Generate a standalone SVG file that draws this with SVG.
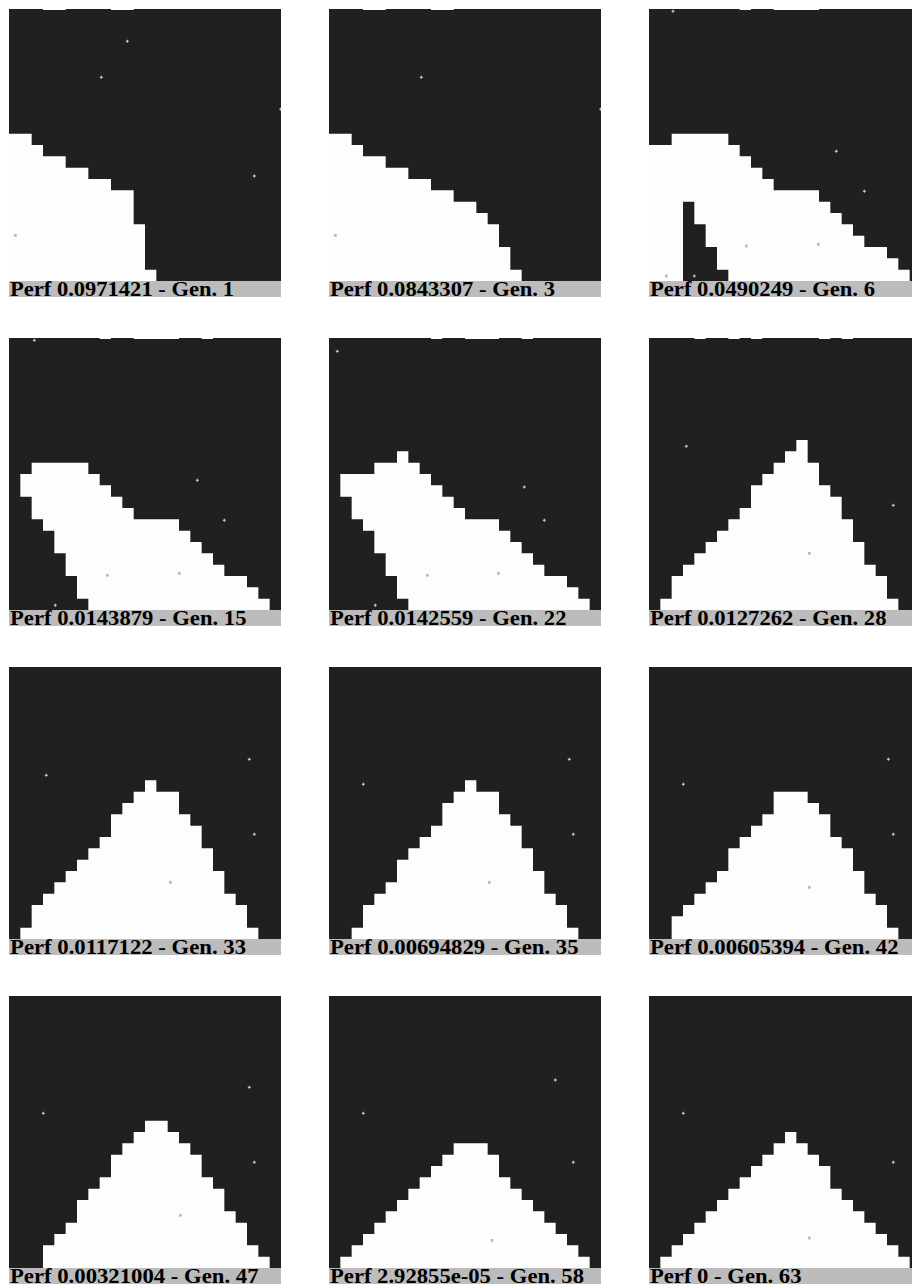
<svg xmlns="http://www.w3.org/2000/svg" xmlns:xlink="http://www.w3.org/1999/xlink" width="912" height="1288" viewBox="0 0 912 1288">
<style>
.bg{fill:#202020}
.wh{fill:#fdfdfd}
.bar{fill:#bcbcbc}
.notch{fill:#ffffff}
.lbl{font-family:"Liberation Serif","Times New Roman",serif;font-weight:bold;font-size:21px;fill:#000}
</style>
<defs>
<path id="sp" d="M-1.5,-0.5h3v1h-3z M-0.5,-1.5h1v3h-1z" fill="#d9d9d9"/>
<rect id="gs" x="-1.3" y="-1.3" width="2.7" height="2.7" fill="#b9b9b9"/>
</defs>
<rect width="912" height="1288" fill="#ffffff"/>

<g id="panel-1" transform="translate(9,9)">
<rect class="bg" width="272" height="272"/>
<path class="wh" transform="scale(11.33333)" d="M0 11h2v1h-2z M0 12h3v1h-3z M0 13h5v1h-5z M0 14h7v1h-7z M0 15h9v1h-9z M0 16h11v3h-11z M0 19h12v4h-12z M0 23h13v1h-13z"/>
<g class="notch" transform="scale(11.33333,1)"><rect x="3" width="2" height="1"/><rect x="9" width="2" height="1"/></g>
<use href="#sp" x="118.3" y="32.3"/><use href="#sp" x="92.3" y="68.3"/><use href="#sp" x="271.7" y="100.3"/><use href="#sp" x="245.3" y="167"/>
<use href="#gs" x="6.3" y="226.3"/>
<rect class="bar" y="272" width="272" height="16"/>
<text class="lbl" x="1" y="287" textLength="224" lengthAdjust="spacingAndGlyphs">Perf 0.0971421 - Gen. 1</text>
</g>

<g id="panel-2" transform="translate(329,9)">
<rect class="bg" width="272" height="272"/>
<path class="wh" transform="scale(11.33333)" d="M0 11h2v1h-2z M0 12h3v1h-3z M0 13h5v1h-5z M0 14h7v1h-7z M0 15h9v1h-9z M0 16h11v1h-11z M0 17h13v1h-13z M0 18h14v1h-14z M0 19h15v2h-15z M0 21h16v2h-16z M0 23h17v1h-17z"/>
<g class="notch" transform="scale(11.33333,1)"><rect x="3" width="2" height="1"/><rect x="9" width="2" height="1"/></g>
<use href="#sp" x="92.3" y="68.3"/><use href="#sp" x="271.7" y="100.3"/>
<use href="#gs" x="6.3" y="226.3"/>
<rect class="bar" y="272" width="272" height="16"/>
<text class="lbl" x="1" y="287" textLength="225" lengthAdjust="spacingAndGlyphs">Perf 0.0843307 - Gen. 3</text>
</g>

<g id="panel-3" transform="translate(649,9)">
<rect class="bg" width="272" height="272"/>
<path class="wh" transform="scale(11.33333)" d="M2 11h5v1h-5z M0 12h8v1h-8z M0 13h9v1h-9z M0 14h10v1h-10z M0 15h11v1h-11z M0 16h15v1h-15z M0 17h3v7h-3z M4 17h12v1h-12z M4 18h13v1h-13z M5 19h13v1h-13z M5 20h14v1h-14z M6 21h15v1h-15z M6 22h16v1h-16z M7 23h16v1h-16z"/>
<g class="notch" transform="scale(11.33333,1)"><rect x="8" width="1" height="1"/><rect x="11" width="4" height="1"/></g>
<use href="#sp" x="24" y="2.3"/><use href="#sp" x="187.3" y="142.3"/><use href="#sp" x="215.3" y="182.3"/><use href="#sp" x="45.3" y="267"/>
<use href="#gs" x="17.3" y="267"/><use href="#gs" x="97.3" y="237"/><use href="#gs" x="169.3" y="235.3"/>
<rect class="bar" y="272" width="272" height="16"/>
<text class="lbl" x="1" y="287" textLength="225" lengthAdjust="spacingAndGlyphs">Perf 0.0490249 - Gen. 6</text>
</g>

<g id="panel-4" transform="translate(9,338)">
<rect class="bg" width="272" height="272"/>
<path class="wh" transform="scale(11.33333)" d="M2 11h5v1h-5z M1 12h7v1h-7z M1 13h8v1h-8z M2 14h8v1h-8z M2 15h9v1h-9z M3 16h12v1h-12z M4 17h12v1h-12z M4 18h13v1h-13z M5 19h13v1h-13z M5 20h14v1h-14z M6 21h15v1h-15z M6 22h16v1h-16z M7 23h16v1h-16z"/>
<g class="notch" transform="scale(11.33333,1)"><rect x="8" width="1" height="1"/><rect x="11" width="4" height="1"/><rect x="17" width="1" height="1"/></g>
<use href="#sp" x="25.3" y="2.3"/><use href="#sp" x="188.3" y="142.3"/><use href="#sp" x="215.3" y="182.3"/><use href="#sp" x="46.3" y="267.3"/>
<use href="#gs" x="98.3" y="237.3"/><use href="#gs" x="170.3" y="235.3"/>
<rect class="bar" y="272" width="272" height="16"/>
<text class="lbl" x="1" y="287" textLength="236.5" lengthAdjust="spacingAndGlyphs">Perf 0.0143879 - Gen. 15</text>
</g>

<g id="panel-5" transform="translate(329,338)">
<rect class="bg" width="272" height="272"/>
<path class="wh" transform="scale(11.33333)" d="M6 10h1v1h-1z M4 11h4v1h-4z M1 12h8v1h-8z M1 13h9v1h-9z M2 14h9v1h-9z M2 15h10v1h-10z M3 16h12v1h-12z M4 17h12v1h-12z M4 18h13v1h-13z M5 19h13v1h-13z M5 20h14v1h-14z M6 21h15v1h-15z M6 22h16v1h-16z M7 23h16v1h-16z"/>
<g class="notch" transform="scale(11.33333,1)"><rect x="9" width="1" height="1"/><rect x="12" width="3" height="1"/><rect x="17" width="1" height="1"/></g>
<use href="#sp" x="8.3" y="13.3"/><use href="#sp" x="195.3" y="149"/><use href="#sp" x="215.3" y="182.3"/><use href="#sp" x="46.3" y="267.3"/>
<use href="#gs" x="98.3" y="237.3"/><use href="#gs" x="169.3" y="235.3"/>
<rect class="bar" y="272" width="272" height="16"/>
<text class="lbl" x="1" y="287" textLength="236.5" lengthAdjust="spacingAndGlyphs">Perf 0.0142559 - Gen. 22</text>
</g>

<g id="panel-6" transform="translate(649,338)">
<rect class="bg" width="272" height="272"/>
<path class="wh" transform="scale(11.33333)" d="M13 9h1v1h-1z M12 10h2v1h-2z M11 11h4v1h-4z M10 12h5v1h-5z M9 13h7v1h-7z M9 14h8v1h-8z M8 15h9v1h-9z M7 16h11v1h-11z M6 17h12v1h-12z M5 18h14v1h-14z M4 19h15v1h-15z M3 20h17v1h-17z M2 21h19v2h-19z M1 23h21v1h-21z"/>
<g class="notch" transform="scale(11.33333,1)"><rect x="4" width="1" height="1"/><rect x="7" width="1" height="1"/><rect x="9" width="1" height="1"/><rect x="15" width="1" height="1"/><rect x="17" width="1" height="1"/></g>
<use href="#sp" x="37.3" y="108.3"/><use href="#sp" x="244.3" y="167.3"/>
<use href="#gs" x="160.3" y="215.3"/>
<rect class="bar" y="272" width="272" height="16"/>
<text class="lbl" x="1" y="287" textLength="236.5" lengthAdjust="spacingAndGlyphs">Perf 0.0127262 - Gen. 28</text>
</g>

<g id="panel-7" transform="translate(9,667)">
<rect class="bg" width="272" height="272"/>
<path class="wh" transform="scale(11.33333)" d="M12 10h1v1h-1z M11 11h4v1h-4z M10 12h5v1h-5z M9 13h7v1h-7z M9 14h8v1h-8z M8 15h9v1h-9z M7 16h11v1h-11z M6 17h12v1h-12z M5 18h14v1h-14z M4 19h15v1h-15z M3 20h17v1h-17z M2 21h19v2h-19z M1 23h21v1h-21z"/>
<use href="#sp" x="37.3" y="108.3"/><use href="#sp" x="240.3" y="92.3"/><use href="#sp" x="245.3" y="167.3"/>
<use href="#gs" x="161.3" y="215.3"/>
<rect class="bar" y="272" width="272" height="16"/>
<text class="lbl" x="1" y="287" textLength="236" lengthAdjust="spacingAndGlyphs">Perf 0.0117122 - Gen. 33</text>
</g>

<g id="panel-8" transform="translate(329,667)">
<rect class="bg" width="272" height="272"/>
<path class="wh" transform="scale(11.33333)" d="M12 10h1v1h-1z M11 11h4v1h-4z M10 12h5v1h-5z M10 13h6v1h-6z M9 14h8v1h-8z M8 15h9v1h-9z M7 16h11v1h-11z M6 17h12v1h-12z M6 18h13v1h-13z M5 19h14v1h-14z M4 20h16v1h-16z M3 21h18v2h-18z M2 23h20v1h-20z"/>
<use href="#sp" x="34.3" y="117.3"/><use href="#sp" x="240.3" y="92.3"/><use href="#sp" x="244.3" y="167.3"/>
<use href="#gs" x="160.3" y="215.3"/>
<rect class="bar" y="272" width="272" height="16"/>
<text class="lbl" x="1" y="287" textLength="248.5" lengthAdjust="spacingAndGlyphs">Perf 0.00694829 - Gen. 35</text>
</g>

<g id="panel-9" transform="translate(649,667)">
<rect class="bg" width="272" height="272"/>
<path class="wh" transform="scale(11.33333)" d="M11 11h3v1h-3z M11 12h4v1h-4z M10 13h6v1h-6z M9 14h7v1h-7z M8 15h9v1h-9z M7 16h11v2h-11z M6 18h13v1h-13z M5 19h14v1h-14z M4 20h16v1h-16z M3 21h18v1h-18z M2 22h19v1h-19z M2 23h20v1h-20z"/>
<use href="#sp" x="34.3" y="117.3"/><use href="#sp" x="239.3" y="92.3"/><use href="#sp" x="244.3" y="167.3"/>
<use href="#gs" x="160.3" y="220.3"/>
<rect class="bar" y="272" width="272" height="16"/>
<text class="lbl" x="1" y="287" textLength="248.5" lengthAdjust="spacingAndGlyphs">Perf 0.00605394 - Gen. 42</text>
</g>

<g id="panel-10" transform="translate(9,996)">
<rect class="bg" width="272" height="272"/>
<path class="wh" transform="scale(11.33333)" d="M12 11h2v1h-2z M11 12h4v1h-4z M10 13h6v1h-6z M9 14h8v2h-8z M8 16h10v1h-10z M7 17h12v1h-12z M6 18h13v1h-13z M6 19h14v1h-14z M5 20h16v1h-16z M4 21h17v1h-17z M3 22h19v1h-19z M3 23h20v1h-20z"/>
<use href="#sp" x="34.3" y="117.3"/><use href="#sp" x="240.3" y="91.3"/><use href="#sp" x="245.3" y="166.3"/>
<use href="#gs" x="171.3" y="219.3"/>
<rect class="bar" y="272" width="272" height="16"/>
<text class="lbl" x="1" y="287" textLength="248.5" lengthAdjust="spacingAndGlyphs">Perf 0.00321004 - Gen. 47</text>
</g>

<g id="panel-11" transform="translate(329,996)">
<rect class="bg" width="272" height="272"/>
<path class="wh" transform="scale(11.33333)" d="M11 13h3v1h-3z M10 14h5v1h-5z M9 15h6v1h-6z M8 16h8v1h-8z M7 17h10v1h-10z M6 18h12v1h-12z M5 19h14v1h-14z M4 20h16v1h-16z M3 21h18v1h-18z M2 22h20v1h-20z M1 23h22v1h-22z"/>
<use href="#sp" x="34.3" y="117.3"/><use href="#sp" x="226.3" y="84"/><use href="#sp" x="244.3" y="166.3"/>
<use href="#gs" x="163" y="244.3"/>
<rect class="bar" y="272" width="272" height="16"/>
<text class="lbl" x="1" y="287" textLength="254" lengthAdjust="spacingAndGlyphs">Perf 2.92855e-05 - Gen. 58</text>
</g>

<g id="panel-12" transform="translate(649,996)">
<rect class="bg" width="272" height="272"/>
<path class="wh" transform="scale(11.33333)" d="M12 12h1v1h-1z M11 13h3v1h-3z M10 14h5v1h-5z M9 15h7v1h-7z M8 16h8v1h-8z M7 17h10v1h-10z M6 18h12v1h-12z M5 19h14v1h-14z M4 20h16v1h-16z M3 21h18v1h-18z M2 22h20v1h-20z M1 23h22v1h-22z"/>
<use href="#sp" x="34.3" y="117.3"/><use href="#sp" x="244.3" y="166.3"/>
<use href="#gs" x="160.3" y="242"/>
<rect class="bar" y="272" width="272" height="16"/>
<text class="lbl" x="1" y="287" textLength="151.5" lengthAdjust="spacingAndGlyphs">Perf 0 - Gen. 63</text>
</g>

<g id="connectors"/>
</svg>
